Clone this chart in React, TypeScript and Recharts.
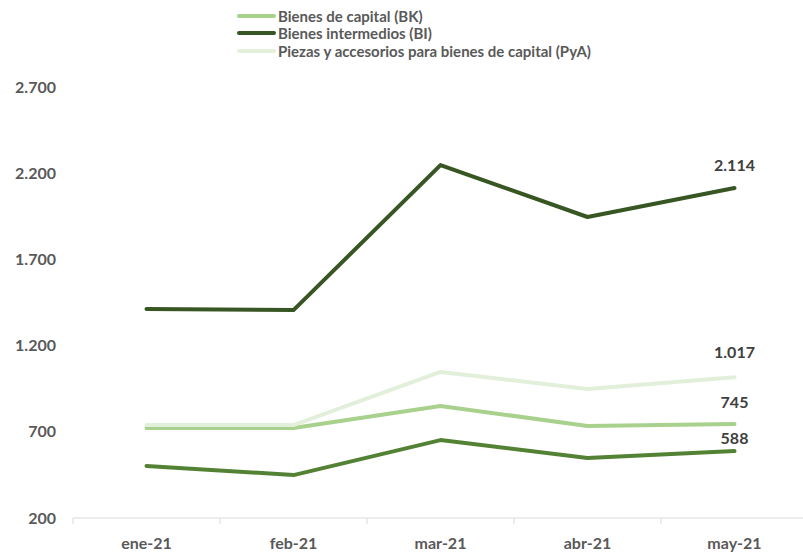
import React from 'react';
import { LineChart, Line, XAxis, YAxis, Legend, LabelList } from 'recharts';

const categories = ['ene-21', 'feb-21', 'mar-21', 'abr-21', 'may-21'];
const bkValues = [722, 722, 850, 734, 745];
const biValues = [1412, 1406, 2247, 1946, 2114];
const pyaValues = [739, 739, 1047, 948, 1017];
const otrosValues = [502, 449, 652, 548, 588];
const yTicks = [200, 700, 1200, 1700, 2200, 2700];
const xBoundaryTicks = [0, 1, 2, 3, 4, 5];

const data = categories.map((c, i) => ({
  pos: i + 0.5,
  cat: c,
  bk: bkValues[i],
  bi: biValues[i],
  pya: pyaValues[i],
  otros: otrosValues[i],
}));

const FONT = 'Lato, "Open Sans", sans-serif';
const CHART_W = 818;
const CHART_H = 553;
const MARGIN = { top: 87, right: 10, bottom: 0, left: 0 };
const Y_W = 73;
const HALF_BAND = (CHART_W - MARGIN.left - MARGIN.right - Y_W) / categories.length / 2;

const fmt = (n: number) => String(n).replace(/\B(?=(\d{3})+(?!\d))/g, '.');

const XTick = (props: any) => {
  const { x, y, payload } = props;
  const v = payload.value;
  if (v >= categories.length) return null;
  return (
    <text x={x + HALF_BAND} y={y} dy={23} textAnchor="middle" fontFamily={FONT} fontWeight={700} fontSize={16} fill="#595959">
      {categories[v]}
    </text>
  );
};

const makeLastLabel = (off: number) => (p: any) => {
  if (p.index !== categories.length - 1) return null;
  return (
    <text x={p.x} y={p.y - off} textAnchor="middle" fontFamily={FONT} fontWeight={700} fontSize={16} fill="#404040">
      {fmt(Number(p.value))}
    </text>
  );
};

const LegendContent = (props: any) => {
  const payload = (props.payload || []).filter((it: any) => it.type !== 'none' && !it.inactive);
  return (
    <div style={{ fontFamily: FONT, fontWeight: 700, fontSize: 15, color: '#595959' }}>
      {payload.map((it: any) => (
        <div key={it.value} style={{ display: 'flex', alignItems: 'center', height: 17.5, whiteSpace: 'nowrap' }}>
          <span style={{ display: 'inline-block', width: 39, height: 4, background: it.color, borderRadius: 2, marginRight: 2 }} />
          <span>{it.value}</span>
        </div>
      ))}
    </div>
  );
};

export default function App() {
  return (
    <div style={{ position: 'absolute', left: 0, top: 0, width: 803, height: 553, overflow: 'hidden', background: '#fff' }}>
      <LineChart width={CHART_W} height={CHART_H} data={data} margin={MARGIN}>
        <XAxis
          dataKey="pos"
          type="number"
          domain={[0, 5]}
          ticks={xBoundaryTicks}
          interval={0}
          height={35}
          axisLine={{ stroke: '#d9d9d9' }}
          tickLine={{ stroke: '#d9d9d9' }}
          tickSize={6}
          tick={<XTick />}
        />
        <YAxis
          type="number"
          domain={[200, 2700]}
          ticks={yTicks}
          interval={0}
          width={Y_W}
          axisLine={false}
          tickLine={false}
          tickSize={0}
          tickMargin={17}
          tickFormatter={fmt}
          tick={{ fontFamily: FONT, fontWeight: 700, fontSize: 16, fill: '#595959' }}
        />
        <Legend
          layout="horizontal"
          verticalAlign="middle"
          align="center"
          content={<LegendContent />}
          wrapperStyle={{ top: 7, left: 237, width: 'auto', height: 'auto' }}
        />
        <Line dataKey="bk" name="Bienes de capital (BK)" stroke="#a9d18e" strokeWidth={4} dot={false} strokeLinecap="round" strokeLinejoin="round" isAnimationActive={false}>
          <LabelList dataKey="bk" content={makeLastLabel(16)} />
        </Line>
        <Line dataKey="bi" name="Bienes intermedios (BI)" stroke="#375623" strokeWidth={4} dot={false} strokeLinecap="round" strokeLinejoin="round" isAnimationActive={false}>
          <LabelList dataKey="bi" content={makeLastLabel(17)} />
        </Line>
        <Line dataKey="pya" name="Piezas y accesorios para bienes de capital (PyA)" stroke="#e2efda" strokeWidth={4} dot={false} strokeLinecap="round" strokeLinejoin="round" isAnimationActive={false}>
          <LabelList dataKey="pya" content={makeLastLabel(19)} />
        </Line>
        <Line dataKey="otros" name="Otros" legendType="none" stroke="#548235" strokeWidth={4} dot={false} strokeLinecap="round" strokeLinejoin="round" isAnimationActive={false}>
          <LabelList dataKey="otros" content={makeLastLabel(7)} />
        </Line>
      </LineChart>
    </div>
  );
}
